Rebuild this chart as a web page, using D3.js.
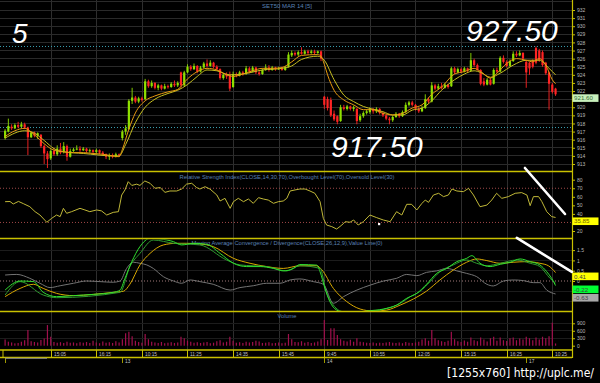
<!DOCTYPE html>
<html><head><meta charset="utf-8">
<script src="https://cdn.jsdelivr.net/npm/d3@7/dist/d3.min.js"></script>
<style>html,body{margin:0;padding:0;background:#000;overflow:hidden}svg{display:block}</style>
</head><body>
<svg id="chart" width="600" height="383"></svg>
<script>
// ---------------- DATA ----------------
const opens=[916.2,917.0,917.6,917.4,917.8,917.6,917.9,917.5,916.3,916.9,
916.5,916.6,915.2,914.3,913.7,914.6,914.2,914.9,914.5,915.2,
913.9,914.6,914.8,914.9,914.7,914.9,914.6,914.7,914.5,914.7,
914.4,914.2,913.9,914.1,913.9,914.2,916.2,917.0,917.3,920.8,
921.2,920.7,921.1,921.0,923.2,922.6,923.0,922.4,922.7,922.3,
922.6,922.5,922.9,922.7,924.3,922.7,924.3,925.0,924.7,925.1,
924.4,924.9,925.4,925.1,925.5,925.0,924.7,923.6,924.0,924.0,
922.5,924.1,923.9,924.3,924.1,924.8,924.4,924.9,924.3,924.1,
924.6,924.9,924.6,924.9,924.7,924.8,924.6,925.0,926.4,926.7,
926.5,926.8,926.6,926.9,926.7,926.9,926.7,926.9,921.3,921.0,
920.9,919.2,918.9,918.3,920.0,919.8,920.1,919.8,919.8,918.4,
918.9,919.3,919.4,919.8,919.5,919.8,919.3,919.0,918.6,918.4,
918.8,919.2,918.9,919.4,920.3,920.6,920.3,919.8,919.5,919.9,
921.0,920.7,922.7,922.3,922.6,922.4,922.8,922.6,924.8,924.3,
924.7,924.4,924.8,924.5,925.8,925.2,924.6,923.2,922.8,923.4,
922.9,924.6,924.4,926.1,925.6,925.1,925.7,926.6,926.4,926.7,
925.6,925.5,925.8,927.3,927.0,926.8,925.5,924.3,922.8,922.3];
const highs=[917.3,918.6,917.9,918.0,918.2,918.2,918.1,917.6,917.0,917.0,
916.9,916.7,915.4,914.6,914.8,915.0,915.3,915.6,915.7,915.4,
914.9,915.0,915.3,915.2,915.1,915.0,914.9,914.8,914.9,914.8,
914.6,914.3,914.3,914.3,914.4,914.3,917.2,917.8,921.0,922.4,
921.4,921.3,921.3,923.5,923.4,923.3,923.1,922.9,922.8,922.9,
922.8,923.1,923.3,923.2,924.4,924.5,925.3,925.2,925.4,925.2,
925.1,925.6,925.9,925.8,925.6,925.2,924.8,924.2,924.3,924.4,
924.4,924.3,924.5,924.5,925.1,925.0,925.1,925.0,924.5,924.8,
925.3,925.2,925.1,925.0,925.0,925.0,925.1,926.8,927.0,926.9,
927.0,927.4,927.1,927.1,927.1,927.1,927.0,927.0,921.4,921.3,
921.2,919.6,919.0,920.3,920.3,920.3,920.2,920.2,919.9,919.2,
919.5,919.7,920.0,919.9,920.0,919.9,919.4,919.1,918.8,919.0,
919.4,919.3,919.6,920.6,920.8,920.8,920.4,920.0,920.2,921.6,
921.2,923.1,922.9,922.9,923.0,923.0,922.9,925.0,925.0,924.9,
924.9,925.0,924.9,926.7,926.0,925.4,924.7,923.6,923.6,923.6,
924.8,924.9,926.3,926.4,925.8,925.9,926.9,926.9,927.0,926.8,
925.8,925.6,925.9,927.5,927.2,927.0,925.6,924.4,923.0,922.4];
const lows=[916.0,916.9,917.2,917.3,917.4,917.5,917.3,914.1,916.2,916.3,
916.1,915.0,913.0,912.5,913.5,914.0,914.0,914.2,914.3,913.4,
913.8,914.5,914.7,914.5,914.6,914.4,914.4,914.3,914.3,914.2,
914.0,913.6,913.5,913.7,913.8,913.9,915.9,916.6,917.2,920.4,
920.5,920.5,920.7,920.9,922.4,922.4,922.2,922.1,922.1,922.2,
922.3,922.4,922.5,922.5,922.4,922.6,924.2,924.5,924.6,924.2,
924.3,924.8,924.9,925.0,924.8,924.5,923.4,923.4,923.5,922.0,
922.4,923.7,923.8,923.9,924.0,924.2,924.3,924.1,923.9,924.0,
924.5,924.4,924.5,924.5,924.6,924.5,924.5,924.9,926.2,926.3,
926.3,926.5,926.5,926.5,926.6,926.5,926.6,925.7,919.8,919.6,
918.8,918.3,917.9,918.2,919.6,919.6,919.6,919.5,917.9,918.2,
918.7,919.1,919.2,919.2,919.3,919.1,918.8,918.4,917.9,918.2,
918.7,918.7,918.8,919.3,920.1,920.1,919.6,919.3,919.4,919.8,
920.5,920.6,922.1,922.2,922.2,922.3,922.3,922.5,924.1,924.2,
924.2,924.3,924.3,924.4,925.0,924.5,922.7,922.6,922.7,922.7,
922.8,924.2,924.3,925.4,924.9,925.0,925.6,926.2,926.3,925.8,
922.4,924.0,924.8,925.3,925.6,925.0,924.0,919.7,921.7,921.4];
const closes=[917.1,917.7,917.4,917.8,917.6,917.9,917.5,916.3,916.9,916.5,
916.8,915.2,914.3,913.6,914.6,914.2,914.9,914.4,915.2,913.9,
914.6,914.8,914.9,914.7,914.9,914.6,914.7,914.5,914.7,914.4,
914.2,913.9,914.1,913.9,914.2,914.1,917.0,917.4,920.8,921.2,
920.7,921.1,920.9,923.2,922.6,923.0,922.4,922.7,922.3,922.6,
922.5,922.9,922.7,923.0,922.7,924.3,925.0,924.7,925.1,924.4,
924.9,925.4,925.1,925.5,925.0,924.7,923.6,924.0,923.8,922.3,
924.1,923.9,924.3,924.1,924.8,924.4,924.9,924.3,924.1,924.6,
924.9,924.6,924.9,924.7,924.8,924.6,925.0,926.5,926.7,926.5,
926.8,926.6,926.9,926.7,926.9,926.7,926.9,926.0,920.3,919.9,
919.0,918.5,918.2,920.0,919.8,920.1,919.8,920.0,918.3,918.9,
919.3,919.5,919.8,919.5,919.8,919.3,919.0,918.6,918.4,918.8,
919.2,918.9,919.4,920.3,920.6,920.3,919.8,919.5,919.9,921.0,
920.7,922.7,922.3,922.6,922.4,922.8,922.5,924.8,924.3,924.7,
924.4,924.8,924.5,925.8,925.2,924.6,922.9,922.8,923.4,922.8,
924.6,924.4,926.1,925.6,925.1,925.7,926.6,926.4,926.7,926.0,
924.3,924.8,925.0,925.5,925.8,925.2,924.2,922.9,921.9,921.6];
const volumes=[250,160,130,95,110,160,220,630,180,150,
130,230,290,830,360,150,120,140,110,160,
120,130,100,140,120,150,110,200,130,100,
170,120,140,110,180,130,260,500,560,380,
200,150,120,470,260,160,130,110,150,100,
120,140,110,130,360,300,200,160,120,140,
110,130,150,100,120,180,220,130,160,360,
200,120,140,110,160,130,150,200,170,110,
120,140,100,110,130,100,120,470,260,150,
140,180,120,150,110,130,170,260,1030,230,
700,700,430,260,200,170,240,160,300,160,
140,120,110,130,100,120,110,130,150,120,
110,130,100,150,120,110,130,160,250,300,
200,630,300,220,180,150,200,560,260,180,
150,210,160,330,220,180,330,250,170,300,
360,200,330,220,190,300,330,220,290,250,
360,300,220,330,250,360,300,380,925,90];

const maFastX=[0,3,6,9,12,15,18,21,24,27,30,33,35,36,38,40,43,46,50,53,56,59,62,65,68,70,73,76,79,82,85,88,91,96,97,98,99,101,104,107,110,113,116,119,122,125,128,131,134,138,141,144,146,149,151,154,157,160,162,164,166,168,169];
const maFast=[916.4,917.1,917.4,916.6,915.5,914.7,914.5,914.4,914.4,914.3,914.2,914.0,913.9,914.8,917.3,919.3,920.8,921.4,921.9,922.2,923.5,924.4,924.8,924.6,924.0,923.8,924.1,924.5,924.8,924.8,924.9,925.6,926.4,926.5,926.3,925.3,924.0,922.1,920.9,920.3,919.7,919.7,919.25,919.05,919.25,919.9,920.3,921.6,922.5,924.1,924.4,924.8,924.4,923.6,924.2,925.4,926.0,925.8,925.6,926.0,925.2,923.4,922.9];
const maSlowX=[0,6,9,12,15,18,24,33,35,37,40,43,46,50,53,56,59,62,65,69,73,79,85,88,91,96,98,101,104,107,110,113,116,119,122,125,128,131,134,138,141,144,146,149,152,156,160,164,167,169];
const maSlow=[916.2,917.1,916.8,915.9,914.9,914.5,914.3,914.0,914.0,915.4,918.1,920.0,921.0,921.7,922.1,922.8,923.8,924.6,924.5,924.0,924.1,924.6,924.8,925.1,925.9,926.3,925.8,923.4,921.5,920.7,920.1,919.75,919.45,919.05,919.05,919.65,919.9,920.8,922.1,923.4,924.1,924.5,924.3,923.7,924.2,925.2,925.8,925.8,924.8,924.0];

const rsiX=[0,1.5,2.5,4.1,5.6,7.6,9.2,10.7,12.8,14.3,15.8,16.9,17.9,18.9,20.4,23,24.5,26,28.1,29.6,31.2,33.2,34.8,35.8,36.8,37.8,38.9,40.4,41.4,42.9,44.5,46,47.6,49.1,50.6,52.7,54.2,55.7,57.3,58.8,59.8,61.4,62.9,65,66,67.5,69.1,70.1,71.6,73.2,74.7,76.2,77.8,79.3,80.8,82.4,83.9,85.4,86.5,87.5,89,90.5,92.1,93.6,95.1,96.7,97.7,98.7,100.3,101.8,103.4,104.4,105.9,107,108.4,110,112,114.1,116.1,118.2,120.2,121.8,123.3,124.8,126.4,127.9,129,130,131.5,133.1,134.6,136.1,137.2,138.7,140.7,142.3,143.8,145.8,147.9,149.4,150.9,152.5,154.5,156.6,158.6,160.2,161.2,162.2,163.8,164.8,166.3,167.8,169];
const rsiV=[54.3,54.5,51.6,54.6,52,48.4,42.6,38.7,30.2,34.8,38.7,36.8,46.5,40.7,42.6,46.5,44.6,42.6,44.6,43.5,38.7,41.8,42.6,62.1,68,77.7,73.3,74.8,73.3,78.5,75.8,70,70.8,65.2,66.8,66.8,69.1,74.8,75.8,70.8,69.1,71.8,69.1,62.1,55.1,58.2,46.5,54.3,58.2,54.3,57.4,52.4,59,57.4,56.2,52.4,54.3,55.1,58.2,66.8,68,69.1,69.1,66.8,64.1,54.3,34.8,27,25.1,22.3,27,30.9,30.2,32.9,27,30.9,38.7,35.6,32.9,30.9,42.6,38.7,51.2,51.2,44.6,52,56.2,53.5,62.1,64.1,60.2,62.1,69.1,66.8,66,69.9,62.1,48.4,50.3,56.2,64.1,58.2,60.2,64.1,64.9,62.1,49.6,60.2,60.2,54.3,42.6,36.8,35.85];

const macdGrayX=[0,3.6,7.6,10.7,13.8,16.9,21,25,29.1,33.2,35.3,37.3,39.4,41.4,43.5,45.5,48.6,51.7,54.2,56.8,59.8,63.9,69.1,72.1,76.2,80.3,84.4,87.5,90.5,94.6,97.7,100.8,103.9,108,112.1,116.2,120.2,123.3,126.4,129.4,132.5,135.6,138.7,141.7,144.8,147.9,149.9,153,156,159.1,162.2,164.2,166.3,169];
const macdGray=[0.29,0.32,0.13,-0.11,-0.32,-0.23,-0.11,0,-0.03,-0.06,0,0.61,0.91,0.86,0.78,0.61,0.21,0,-0.11,0.05,-0.03,-0.16,-0.44,-0.32,-0.23,-0.11,-0.11,0.05,0.1,-0.03,-0.16,-1.08,-0.76,-0.44,-0.2,0,0.13,0.32,0.26,0.42,0.49,0.61,0.49,0.37,0.21,-0.16,-0.24,0,0.05,0.02,-0.08,-0.08,-0.44,-0.63];
const macdYellowX=[0,4.6,8.7,11.7,15.8,21,27.1,33.2,36.3,38.3,41.4,44.5,48.6,52.7,55.7,59.8,63.9,70.1,75.2,80.3,85.4,90.5,95.7,97.2,100.8,104.9,109,113.1,117.2,121.3,125.4,129.4,133.5,137.6,141.7,144.8,147.9,152,156,160.1,164.2,166.8,169];
const macdYellow=[-0.76,-0.36,-0.16,-0.36,-0.6,-0.71,-0.65,-0.55,-0.5,-0.16,0.78,1.34,1.75,1.83,1.83,1.8,1.67,1.1,0.86,0.7,0.61,0.74,0.74,0.55,-0.36,-1.0,-1.36,-1.46,-1.41,-1.17,-0.87,-0.49,0.05,0.53,0.91,1.07,0.99,0.86,0.91,0.94,0.86,0.74,0.41];
const macdGreenX=[0,4.6,8.7,11.7,15.8,21,27.1,33.2,35.3,36.8,38.9,41.4,44.5,47.6,51.7,54.2,57.8,61.9,66,70.1,74.2,78.3,82.4,85.4,88.5,90.5,95.7,96.7,98.2,99.7,101.8,105.9,111,116.2,120.2,123.3,126.4,129.4,132.5,135.6,138.7,141.7,143.3,145.8,148.9,152,155.1,158.1,161.2,164.2,166.3,167.8,169];
const macdGreen=[-0.44,0,-0.03,-0.55,-0.76,-0.71,-0.65,-0.55,-0.44,0.13,0.94,1.67,2.07,2.04,1.91,1.75,1.83,1.78,1.34,0.86,0.7,0.7,0.61,0.49,0.61,0.8,0.77,0.45,-0.36,-1.0,-1.41,-1.6,-1.46,-1.36,-1.17,-0.84,-0.6,-0.16,0.37,0.61,0.94,1.1,1.23,0.86,0.7,0.81,0.91,1.07,0.94,0.78,0.45,0.13,-0.22];
const macdDarkX=[0,4.6,11.7,15.8,35.3,38.3,41.4,45.5,51.7,59.8,68,72.1,80.3,86.5,90.5,96.7,98.6,100.8,103.9,111,117.2,121.3,124.4,127.4,130.5,133.5,137.6,141.7,144.8,147.9,152,157.1,161.2,164.2,167.3,169];
const macdDark=[-0.68,-0.03,-0.68,-0.81,-0.55,0.7,1.34,1.99,1.83,1.75,1.02,0.78,0.7,0.49,0.74,0.61,-0.52,-1.17,-1.49,-1.49,-1.33,-1.09,-0.76,-0.5,-0.03,0.45,0.78,1.02,0.86,0.74,0.86,1.02,0.86,0.7,0.13,-0.1];

const tickIdx=[14,28,42,56,70,84,98,112,126,140,154,168];
const tickLabels=["15:05","16:15","10:15","11:25","14:35","15:45","9:45","10:55","12:05","15:15","16:25","10:25"];
const dayIdx=[0,36,98,160];
const dayLabels=["","13","14","17"];
const priceTicks=[913,914,915,916,917,918,919,920,922,923,924,925,926,927,928,929,930,931,932];
const priceGrid=[913,914,915,916,917,918,919,920,921,922,923,924,925,926,927,928,929,930,931,932,933];
const priceLevels=[927.5,917.5];
const rsiTicks=[20,40,50,60,70,80];
const rsiLevels=[30,70];
const macdTicks=[0,0.5,1,1.5];
const macdGridVals=[-1,-0.5,0.5,1,1.5];
const volTicks=[0,300,600,900];
const lastPrice=921.60, lastRsi=35.85;
const macdLast=[{v:0.41,fill:"#ffff00",t:"0.41"},{v:-0.22,fill:"#00ff33",t:"-0.22"},{v:-0.63,fill:"#a8a8a8",t:"-0.63"}];

// ---------------- CHART ----------------
const svg=d3.select("#chart");
const FONT="'Liberation Sans', Arial, sans-serif";
svg.append("rect").attr("width",600).attr("height",383).attr("fill","#000");
const AX=572;
const x=d3.scaleLinear().domain([0,168]).range([5.1,552.3]);
const yP=d3.scaleLinear().domain([913,932]).range([164,10]);
const yR=d3.scaleLinear().domain([20,80]).range([231,179.7]);
const yM=d3.scaleLinear().domain([0,1.5]).range([281,250.1]);
const yV=d3.scaleLinear().domain([0,900]).range([345.7,323.3]);

const panels={price:[0,171],rsi:[172,238],macd:[239.5,311],vol:[312,350]};
const defs=svg.append("defs");
Object.entries(panels).forEach(([k,[a,b]])=>defs.append("clipPath").attr("id","clip-"+k).append("rect").attr("x",0).attr("y",a).attr("width",AX).attr("height",b-a));

// grid
const grid=svg.append("g").attr("stroke-width",1).attr("shape-rendering","crispEdges");
tickIdx.forEach(i=>grid.append("line").attr("x1",Math.round(x(i))+0.5).attr("x2",Math.round(x(i))+0.5).attr("y1",0).attr("y2",350).attr("stroke","#2e2e2e"));
priceGrid.forEach(v=>grid.append("line").attr("x1",0).attr("x2",AX).attr("y1",yP(v)).attr("y2",yP(v)).attr("stroke","#2a2a2a"));
macdGridVals.forEach(v=>grid.append("line").attr("x1",0).attr("x2",AX).attr("y1",yM(v)).attr("y2",yM(v)).attr("stroke","#1c1c1c"));
[300,600,900].forEach(v=>grid.append("line").attr("x1",0).attr("x2",AX).attr("y1",yV(v)).attr("y2",yV(v)).attr("stroke","#1c1c1c"));

// level lines
priceLevels.forEach(v=>svg.append("line").attr("x1",0).attr("x2",AX).attr("y1",yP(v)).attr("y2",yP(v))
  .attr("stroke","#3a9fb0").attr("stroke-dasharray","1,2").attr("stroke-width",1));
rsiLevels.forEach(v=>svg.append("line").attr("x1",0).attr("x2",AX).attr("y1",yR(v)).attr("y2",yR(v))
  .attr("stroke","#a04848").attr("stroke-dasharray","1,2").attr("stroke-width",1));
svg.append("line").attr("x1",0).attr("x2",AX).attr("y1",yM(0)).attr("y2",yM(0))
  .attr("stroke","#a07878").attr("stroke-dasharray","1,2").attr("stroke-width",1);

// titles
function title(txt,y,len){svg.append("text").attr("x",287).attr("y",y).attr("text-anchor","middle")
  .attr("font-family",FONT).attr("font-size",5.6).attr("fill","#5a80b4")
  .attr("textLength",len).attr("lengthAdjust","spacingAndGlyphs").text(txt);}
title("SET50 MAR 14   [5]",7.5,50);
title("Relative Strength Index(CLOSE,14,30,70),Overbought Level(70),Oversold Level(30)",178.5,215);
title("Moving Average Convergence / Divergence(CLOSE,26,12,9),Value Line(0)",244.5,191);
title("Volume",318,19);

// candles
const pg=svg.append("g").attr("clip-path","url(#clip-price)");
const GREEN="#8ee000", RED="#ff2424";
const idx=d3.range(closes.length);
pg.selectAll("line.w").data(idx).join("line").attr("class","w")
  .attr("x1",i=>x(i)).attr("x2",i=>x(i)).attr("y1",i=>yP(highs[i])).attr("y2",i=>yP(lows[i]))
  .attr("stroke",i=>closes[i]>=opens[i]?GREEN:RED).attr("stroke-width",0.9);
pg.selectAll("rect.b").data(idx).join("rect").attr("class","b")
  .attr("x",i=>x(i)-1.1).attr("width",2.2)
  .attr("y",i=>yP(Math.max(opens[i],closes[i])))
  .attr("height",i=>Math.max(1,Math.abs(yP(opens[i])-yP(closes[i]))))
  .attr("fill",i=>closes[i]>=opens[i]?GREEN:RED);

function drawLine(g,xs,vs,ys,color,w,curve){
  g.append("path").attr("d",d3.line().curve(curve||d3.curveLinear).x((d,k)=>x(xs[k])).y(d=>ys(d))(vs))
   .attr("fill","none").attr("stroke",color).attr("stroke-width",w||1).attr("stroke-linejoin","round");
}
drawLine(pg,maSlowX,maSlow,yP,"#c8c020",1,d3.curveMonotoneX);
drawLine(pg,maFastX,maFast,yP,"#e89a10",1,d3.curveMonotoneX);

// RSI
const rg=svg.append("g").attr("clip-path","url(#clip-rsi)");
drawLine(rg,rsiX,rsiV,yR,"#c0b838",1);

// MACD
const mg=svg.append("g").attr("clip-path","url(#clip-macd)");
drawLine(mg,macdGrayX,macdGray,yM,"#747474",1,d3.curveMonotoneX);
drawLine(mg,macdYellowX,macdYellow,yM,"#d8a800",1,d3.curveMonotoneX);
drawLine(mg,macdDarkX,macdDark,yM,"#2f9a2f",1,d3.curveMonotoneX);
drawLine(mg,macdGreenX,macdGreen,yM,"#30e030",1,d3.curveMonotoneX);

// Volume
const vg=svg.append("g").attr("clip-path","url(#clip-vol)");
vg.selectAll("rect").data(idx).join("rect")
  .attr("x",i=>x(i)-0.6).attr("width",1.2)
  .attr("y",i=>yV(volumes[i])).attr("height",i=>yV(0)-yV(volumes[i]))
  .attr("fill","#a0104c");

// panel separators
const YEL="#c8c000";
[171.5,238.5,311.5,350,357.5].forEach(y=>svg.append("line").attr("x1",0).attr("x2",AX).attr("y1",y).attr("y2",y)
  .attr("stroke",YEL).attr("stroke-width",1.4));
svg.append("line").attr("x1",AX+0.5).attr("x2",AX+0.5).attr("y1",0).attr("y2",358).attr("stroke",YEL).attr("stroke-width",1.2);
svg.append("line").attr("x1",3).attr("x2",3).attr("y1",350).attr("y2",357.5).attr("stroke",YEL).attr("stroke-width",1);

// right axes
function rAxis(scale,vals,fmt){
  const g=svg.append("g").attr("transform",`translate(${AX+0.5},0)`)
    .call(d3.axisRight(scale).tickValues(vals).tickSize(2.5).tickFormat(fmt));
  g.select(".domain").remove();
  g.selectAll("line").attr("stroke",YEL);
  g.selectAll("text").attr("fill","#b8b8b8").attr("font-family",FONT).attr("font-size",5).attr("x",4.5);
}
rAxis(yP,priceTicks,d3.format("d"));
rAxis(yR,rsiTicks,d3.format("d"));
rAxis(yM,macdTicks,d=>String(d));
rAxis(yV,volTicks,d3.format("d"));

// value boxes
function vbox(y,fill,txt,col){
  svg.append("rect").attr("x",AX+0.5).attr("y",y).attr("width",26).attr("height",7.6).attr("fill",fill);
  svg.append("text").attr("x",AX+2).attr("y",y+6).attr("font-family",FONT).attr("font-size",6.2).attr("fill",col||"#333").text(txt);
}
vbox(yP(lastPrice),"#c8f0bc","921.60","#3b6e3b");
vbox(yR(lastRsi),"#ffff00","35.85","#6e6000");
macdLast.forEach(d=>vbox(yM(d.v),d.fill,d.t,"#444"));

// time axis
const tg=svg.append("g");
tickIdx.forEach((i,k)=>{
  const xx=Math.round(x(i))+0.5;
  tg.append("line").attr("x1",xx).attr("x2",xx).attr("y1",350).attr("y2",357.5).attr("stroke",YEL).attr("stroke-width",1);
  tg.append("text").attr("x",xx+2.5).attr("y",355.6).attr("font-family",FONT).attr("font-size",4.8).attr("fill","#c0c0c0").text(tickLabels[k]);
});
dayIdx.forEach((i,k)=>{
  const xx=Math.round(x(i))+0.5;
  tg.append("line").attr("x1",xx).attr("x2",xx).attr("y1",358).attr("y2",363).attr("stroke","#c8c000").attr("stroke-width",0.8);
  tg.append("text").attr("x",xx+2.5).attr("y",363.3).attr("font-family",FONT).attr("font-size",4.8).attr("fill","#c0c0c0").text(dayLabels[k]);
});
tg.append("line").attr("x1",5).attr("x2",47).attr("y1",358.3).attr("y2",358.3).attr("stroke","#8a8a8a").attr("stroke-width",1);

// annotations
const ann=svg.append("g").attr("stroke","#fff").attr("stroke-width",2.6).attr("stroke-linecap","round");
ann.append("line").attr("x1",x(159.6)).attr("y1",yR(93.7)).attr("x2",x(171.9)).attr("y2",yR(39.9));
ann.append("line").attr("x1",x(157.1)).attr("y1",yM(2.09)).attr("x2",x(174.0)).attr("y2",yM(0.44));
svg.append("rect").attr("x",x(114.8)-1).attr("y",yR(28.2)-1).attr("width",2.2).attr("height",2.2).attr("fill","#fff");

function bigText(t,xx,yy,size){svg.append("text").attr("x",xx).attr("y",yy).attr("font-family",FONT)
  .attr("font-style","italic").attr("font-size",size).attr("fill","#fff").text(t);}
bigText("5",12,43,28);
bigText("927.50",466,41,30);
bigText("917.50",331,157,30);

svg.append("text").attr("x",447).attr("y",377).attr("font-family","'DejaVu Sans Condensed','DejaVu Sans',sans-serif").attr("font-size",12.5)
  .attr("fill","#fff").attr("textLength",147).attr("lengthAdjust","spacingAndGlyphs").text("[1255x760] http://uplc.me/");
</script>
</body></html>
